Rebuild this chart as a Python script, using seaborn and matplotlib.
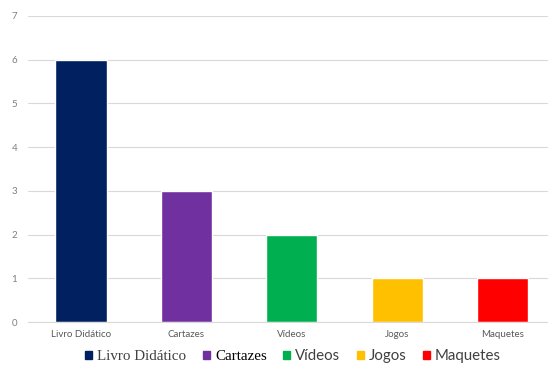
import matplotlib
matplotlib.use("Agg")
import matplotlib.pyplot as plt
import seaborn as sns
import pandas as pd
from matplotlib.patches import Patch
from matplotlib.ticker import FixedLocator

categories = ["Livro Didático", "Cartazes", "Vídeos", "Jogos", "Maquetes"]
values = [6, 3, 2, 1, 1]
colors = ["#002060", "#7030A0", "#00B050", "#FFC000", "#FF0000"]
yticks = [0, 1, 2, 3, 4, 5, 6, 7]

df = pd.DataFrame({"categoria": categories, "valor": values})

sns.set_theme(style="white")
plt.rcParams["font.family"] = ["Lato", "DejaVu Sans"]

fig = plt.figure(figsize=(5.48, 3.68), dpi=100)
ax = fig.add_axes([0.0516, 0.125, 0.9617, 0.832])

sns.barplot(data=df, x="categoria", y="valor", hue="categoria",
            palette=colors, dodge=False, width=0.485, legend=False,
            saturation=1, ax=ax)

ax.set_ylim(0, 7)
ax.set_xlim(-0.5, len(categories) - 0.5)
ax.set_yticks(yticks)
ax.yaxis.grid(True, color="#d9d9d9", linewidth=0.8)
ax.set_axisbelow(True)
ax.set_xlabel("")
ax.set_ylabel("")

for side in ["top", "right", "left"]:
    ax.spines[side].set_visible(False)
ax.spines["bottom"].set_color("#d9d9d9")
ax.spines["bottom"].set_linewidth(0.8)

ax.tick_params(axis="y", length=0, labelsize=7, labelcolor="#7f7f7f", pad=8)
ax.tick_params(axis="x", which="major", length=0, labelsize=7,
               labelcolor="#595959", pad=6)
ax.xaxis.set_minor_locator(FixedLocator([i - 0.5 for i in range(len(categories) + 1)]))
ax.tick_params(axis="x", which="minor", length=4, color="#e3e3e3", width=0.8)

handles = [Patch(facecolor=c, edgecolor=c) for c in colors]
leg = fig.legend(handles, categories, loc="center", bbox_to_anchor=(0.535, 0.032),
                 ncol=5, frameon=False, fontsize=10.8, handlelength=0.45,
                 handleheight=0.45, handletextpad=0.35, columnspacing=1.1)
fonts = ["Liberation Serif", "Liberation Serif", "Lato", "Lato", "Lato"]
for txt, fam in zip(leg.get_texts(), fonts):
    txt.set_fontfamily(fam)
    txt.set_color("#404040")
leg.get_texts()[1].set_color("#000000")

fig.savefig("out.png", dpi=100)
